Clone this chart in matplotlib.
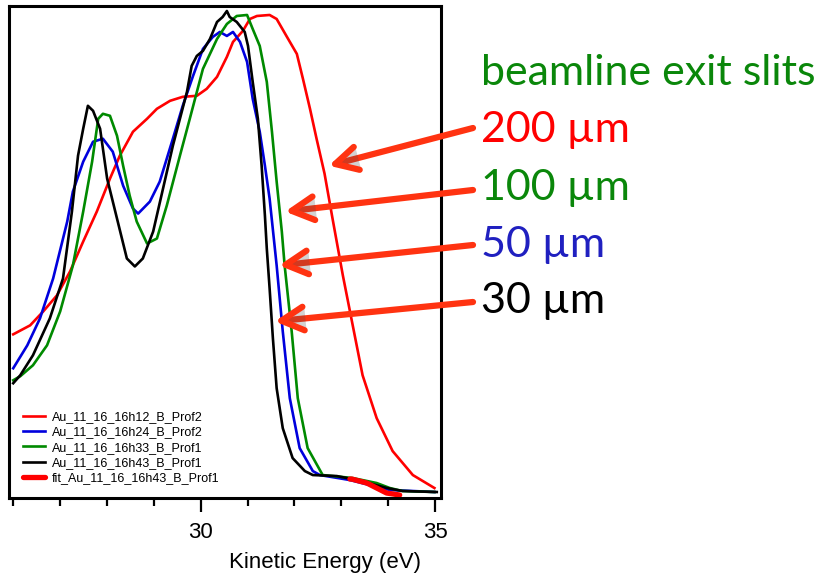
import matplotlib
matplotlib.use("Agg")
import matplotlib.pyplot as plt
from matplotlib.ticker import MultipleLocator
import matplotlib.patheffects as pe

# kinetic energy (eV) and intensity (arb. units)
e_200 = [26.01, 26.37, 26.65, 26.94, 27.22, 27.50, 27.79, 28.07, 28.28, 28.56, 28.86, 29.07, 29.35, 29.62,
         29.92, 30.13, 30.35, 30.56, 30.69, 30.90, 31.05, 31.20, 31.47, 31.62, 31.84, 32.05, 32.18, 32.33,
         32.47, 32.64, 32.81, 33.03, 33.24, 33.45, 33.75, 34.09, 34.52, 34.98]
i_200 = [163, 172, 186, 202, 226, 256, 286, 319, 342, 366, 379, 389, 397, 401,
         402, 409, 421, 441, 456, 467, 479, 482, 483, 479, 461, 444, 419, 389,
         359, 324, 279, 222, 172, 122, 79, 46, 22, 9]

e_50 = [26.01, 26.31, 26.58, 26.86, 27.16, 27.28, 27.50, 27.71, 27.92, 28.13, 28.35, 28.56, 28.67, 28.92,
        29.13, 29.41, 29.62, 29.84, 30.05, 30.26, 30.41, 30.56, 30.69, 30.84, 30.99, 31.11, 31.26, 31.37,
        31.47, 31.62, 31.75, 31.90, 32.11, 32.39, 32.54, 33.18, 33.60, 34.03, 34.52, 34.98]
i_50 = [129, 152, 179, 219, 276, 306, 336, 356, 359, 346, 312, 289, 284, 296,
        316, 359, 392, 422, 449, 461, 466, 462, 466, 456, 436, 399, 366, 332,
        299, 232, 166, 99, 49, 26, 22, 17, 12, 7, 6, 5]

e_100 = [26.01, 26.16, 26.43, 26.73, 27.01, 27.28, 27.50, 27.69, 27.82, 27.92, 28.07, 28.22, 28.35, 28.49,
         28.64, 28.86, 29.07, 29.28, 29.56, 29.77, 30.05, 30.35, 30.56, 30.77, 30.99, 31.11, 31.26, 31.41,
         31.52, 31.62, 31.73, 31.79, 31.94, 32.07, 32.28, 32.60, 33.24, 33.75, 34.03, 34.30, 34.98]
i_100 = [117, 121, 132, 152, 186, 232, 286, 336, 379, 384, 382, 362, 332, 302,
         276, 254, 259, 292, 342, 379, 429, 459, 474, 482, 483, 469, 452, 416,
         366, 316, 266, 232, 166, 99, 49, 22, 19, 14, 9, 6, 5]

e_30 = [26.01, 26.16, 26.43, 26.79, 27.07, 27.26, 27.39, 27.50, 27.60, 27.71, 27.86, 28.01, 28.22, 28.43,
        28.60, 28.77, 28.99, 29.20, 29.41, 29.56, 29.71, 29.81, 29.92, 30.05, 30.20, 30.35, 30.47, 30.56,
        30.62, 30.77, 30.94, 31.01, 31.11, 31.22, 31.30, 31.37, 31.41, 31.47, 31.54, 31.62, 31.75, 31.96,
        32.22, 32.39, 32.90, 33.33, 33.97, 34.30, 35.03]
i_30 = [114, 122, 142, 179, 219, 286, 342, 369, 392, 387, 369, 319, 279, 239,
        231, 239, 266, 309, 352, 379, 406, 432, 442, 447, 459, 476, 481, 487,
        481, 476, 466, 452, 416, 379, 332, 282, 249, 209, 159, 109, 69, 39,
        26, 22, 21, 17, 9, 6, 5]

e_fit = [33.18, 33.22, 33.54, 33.75, 33.96, 34.24]
i_fit = [18, 18, 14, 9, 4, 2]

labels = ["Au_11_16_16h12_B_Prof2", "Au_11_16_16h24_B_Prof2", "Au_11_16_16h33_B_Prof1",
          "Au_11_16_16h43_B_Prof1", "fit_Au_11_16_16h43_B_Prof1"]
slits = ["200 µm", "100 µm", "50 µm", "30 µm"]
slit_colors = ["#ff0000", "#0a870a", "#2020c0", "#000000"]
# where each arrow points (eV, intensity)
arrow_tips = [(32.73, 332), (31.80, 286), (31.67, 232), (31.58, 176)]

W, H = 836, 577
fig = plt.figure(figsize=(W / 100, H / 100), dpi=100)
ax = fig.add_axes([9 / W, 1 - 498 / H, 432 / W, 492 / H])

ax.plot(e_200, i_200, color="#ff0000", lw=1.9, label=labels[0])
ax.plot(e_50, i_50, color="#0000dd", lw=1.9, label=labels[1])
ax.plot(e_100, i_100, color="#008a00", lw=1.9, label=labels[2])
ax.plot(e_30, i_30, color="#000000", lw=1.9, label=labels[3])
ax.plot(e_fit, i_fit, color="#ff0000", lw=3.8, solid_capstyle="round", label=labels[4])

ax.set_xlim(25.92, 35.12)
ax.set_ylim(-1, 492)
ax.xaxis.set_major_locator(MultipleLocator(5))
ax.xaxis.set_minor_locator(MultipleLocator(1))
ax.tick_params(axis="x", which="major", length=10, width=1.6, direction="out", pad=7, labelsize=16)
ax.tick_params(axis="x", which="minor", length=6, width=1.6, direction="out")
ax.tick_params(axis="y", left=False, labelleft=False)
for lab in ax.get_xticklabels():
    lab.set_fontfamily("Liberation Sans")
for s in ax.spines.values():
    s.set_linewidth(2.2)
ax.set_xlabel("Kinetic Energy (eV)", fontsize=16, family="Liberation Sans")
ax.xaxis.set_label_coords((325 - 9) / 432, -0.11)

leg = ax.legend(loc="upper left", bbox_to_anchor=(23 / W, 1 - 411 / H), bbox_transform=fig.transFigure,
                frameon=False, borderpad=0, borderaxespad=0, labelspacing=0.27, handlelength=1.75,
                handletextpad=0.55, prop={"family": "Liberation Sans", "size": 9})

fig.text(481 / W, 1 - 85 / H, "beamline exit slits", color="#0a870a", fontsize=31,
         family=["Lato", "DejaVu Sans"], va="baseline")
baselines = [142, 200, 257, 313]
tails = [128, 190, 245, 302]
for k in range(4):
    fig.text(481 / W, 1 - baselines[k] / H, slits[k], color=slit_colors[k], fontsize=31,
             family=["Lato", "DejaVu Sans"], va="baseline")
    ax.annotate("", xy=arrow_tips[k], xycoords="data", xytext=(473 / W, 1 - tails[k] / H),
                textcoords="figure fraction", annotation_clip=False,
                arrowprops=dict(arrowstyle="->, head_length=1.6, head_width=0.85", color="#ff3311",
                                lw=4.5, shrinkA=0, shrinkB=0, capstyle="round",
                                path_effects=[pe.withSimplePatchShadow(offset=(1.5, -1.5), alpha=0.25)]))

fig.savefig("out.png", dpi=100)
